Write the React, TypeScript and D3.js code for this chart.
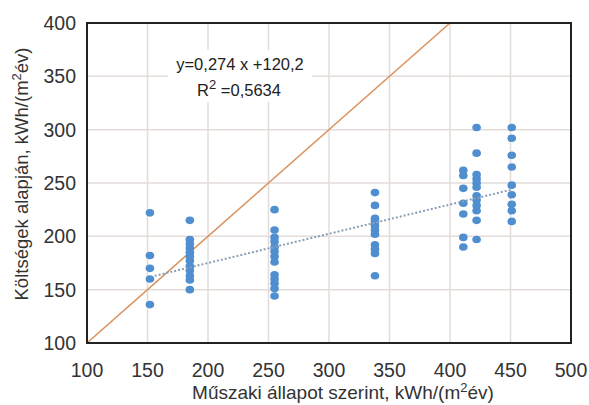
import React, {useEffect, useRef} from "react";
import * as d3 from "d3";

// x positions of the measured groups (Műszaki állapot szerint)
const xGroups = [152, 185, 255, 338, 411, 422, 451];
// y values per group (Költségek alapján)
const group152 = [222, 182, 170, 160, 136];
const group185 = [215, 197, 193, 189, 185, 181, 177, 172, 168, 163, 159, 150];
const group255 = [225, 206, 199, 195, 190, 186, 181, 176, 164, 160, 156, 151, 144];
const group338 = [241, 229, 217, 214, 210, 206, 202, 192, 188, 184, 163];
const group411 = [262, 257, 245, 231, 221, 199, 190];
const group422 = [302, 278, 258, 254, 250, 246, 238, 234, 229, 224, 215, 197];
const group451 = [302, 292, 276, 265, 248, 239, 230, 224, 214];
const yGroups = [group152, group185, group255, group338, group411, group422, group451];

const xTicks = [100, 150, 200, 250, 300, 350, 400, 450, 500];
const yTicks = [100, 150, 200, 250, 300, 350, 400];
const slope = 0.274;
const intercept = 120.2;
const equationText = "y=0,274 x +120,2";
const r2Text = "=0,5634";

function App() {
  const ref = useRef<SVGSVGElement>(null);
  const width = 589;
  const height = 405;
  const left = 87, right = 571, top = 23, bottom = 343;
  const font = "'Liberation Sans', Arial, sans-serif";

  useEffect(() => {
    const svg = d3.select(ref.current);
    svg.selectAll("*").remove();

    const x = d3.scaleLinear().domain([100, 500]).range([left, right]);
    const y = d3.scaleLinear().domain([100, 400]).range([bottom, top]);

    svg.append("rect").attr("width", width).attr("height", height).attr("fill", "#fff");

    // grid
    const grid = svg.append("g").attr("stroke", "#e3dcd8").attr("stroke-width", 1.5);
    grid.selectAll("line.v").data(xTicks.slice(1, -1)).join("line")
      .attr("x1", d => x(d)).attr("x2", d => x(d)).attr("y1", top).attr("y2", bottom);
    grid.selectAll("line.h").data(yTicks.slice(1, -1)).join("line").attr("class", "h")
      .attr("x1", left).attr("x2", right).attr("y1", d => y(d)).attr("y2", d => y(d));

    // equation label box
    svg.append("rect")
      .attr("x", 168).attr("y", 50).attr("width", 144).attr("height", 52)
      .attr("fill", "#fff");
    const eq = svg.append("g").attr("font-family", font).attr("font-size", 16.5)
      .attr("fill", "#222").attr("text-anchor", "middle");
    eq.append("text").attr("x", 240).attr("y", 70).text(equationText);
    const r2 = eq.append("text").attr("x", 239).attr("y", 96);
    r2.append("tspan").text("R");
    r2.append("tspan").attr("font-size", 13).attr("dy", -7).text("2");
    r2.append("tspan").attr("dy", 7).text(" " + r2Text);

    // 1:1 line
    svg.append("line")
      .attr("x1", x(100)).attr("y1", y(100)).attr("x2", x(400)).attr("y2", y(400))
      .attr("stroke", "#d9935f").attr("stroke-width", 1.6);

    // points
    const points = xGroups.flatMap((gx, i) => yGroups[i].map(v => [gx, v]));
    svg.append("g").selectAll("ellipse").data(points).join("ellipse")
      .attr("cx", d => x(d[0])).attr("cy", d => y(d[1]))
      .attr("rx", 4.3).attr("ry", 3.8)
      .attr("fill", "#4f8fd0");

    // trend line
    const xMin = d3.min(xGroups) as number;
    const xMax = d3.max(xGroups) as number;
    svg.append("path")
      .datum([xMin + 4, xMax])
      .attr("d", d3.line<number>().x(d => x(d)).y(d => y(slope * d + intercept)))
      .attr("stroke", "#8a9fb6").attr("stroke-width", 2)
      .attr("stroke-dasharray", "2,2").attr("fill", "none");

    // frame
    svg.append("rect")
      .attr("x", left).attr("y", top).attr("width", right - left).attr("height", bottom - top)
      .attr("fill", "none").attr("stroke", "#222").attr("stroke-width", 2);

    // tick labels
    svg.append("g").attr("font-family", font).attr("font-size", 19.5).attr("fill", "#333")
      .attr("text-anchor", "middle")
      .selectAll("text").data(xTicks).join("text")
      .attr("x", d => x(d)).attr("y", 377).text(d => d);
    svg.append("g").attr("font-family", font).attr("font-size", 19.5).attr("fill", "#333")
      .attr("text-anchor", "end")
      .selectAll("text").data(yTicks).join("text")
      .attr("x", 76).attr("y", d => y(d)).attr("dy", "0.36em").text(d => d);

    // axis titles
    const xt = svg.append("text").attr("font-family", font).attr("font-size", 19)
      .attr("fill", "#333").attr("text-anchor", "middle")
      .attr("x", 343).attr("y", 399);
    xt.append("tspan").text("Műszaki állapot szerint, kWh/(m");
    xt.append("tspan").attr("font-size", 13).attr("dy", -7).text("2");
    xt.append("tspan").attr("dy", 7).text("év)");

    const yt = svg.append("text").attr("font-family", font).attr("font-size", 18.5)
      .attr("fill", "#333").attr("text-anchor", "middle")
      .attr("transform", "translate(28,174) rotate(-90)");
    yt.append("tspan").text("Költségek alapján, kWh/(m");
    yt.append("tspan").attr("font-size", 13).attr("dy", -7).text("2");
    yt.append("tspan").attr("dy", 7).text("év)");
  }, []);

  return (
    <svg ref={ref} width={width} height={height}
      style={{position: "absolute", left: 0, top: 0, display: "block"}}/>
  );
}

export default App;
